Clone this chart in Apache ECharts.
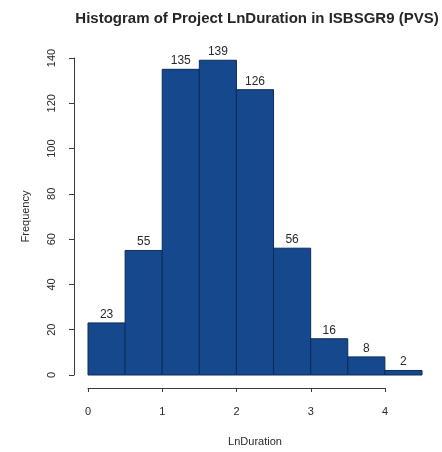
<!DOCTYPE html>
<html>
<head>
<meta charset="utf-8">
<script src="https://cdn.jsdelivr.net/npm/echarts@6/dist/echarts.min.js"></script>
<style>
  html, body { margin: 0; padding: 0; background: #ffffff; }
  #chart { width: 442px; height: 452px; }
</style>
</head>
<body>
<div id="chart"></div>
<script>
// Histogram bins of LnDuration (width 0.5) and their project counts
const binStarts = [0, 0.5, 1, 1.5, 2, 2.5, 3, 3.5, 4];
const binWidth = 0.5;
const counts = [23, 55, 135, 139, 126, 56, 16, 8, 2];
const xTicks = [0, 1, 2, 3, 4];
const yTicks = [0, 20, 40, 60, 80, 100, 120, 140];

const fontFamily = '"Liberation Sans", Arial, sans-serif';
const textColor = '#2a2a2a';
const axisColor = '#3a3a3a';

const data = binStarts.map((s, i) => [s, s + binWidth, counts[i]]);

const chart = echarts.init(document.getElementById('chart'), null, { renderer: 'canvas' });

chart.setOption({
  animation: false,
  backgroundColor: '#ffffff',
  title: {
    text: 'Histogram of Project LnDuration in ISBSGR9 (PVS)',
    left: 252,
    textAlign: 'center',
    top: 6,
    textStyle: { fontFamily, fontSize: 15, fontWeight: 'bold', color: '#262626' }
  },
  grid: [
    { left: 88, right: 20, top: 58, bottom: 76 },
    { left: 88, width: 297, top: 58, bottom: 76 }
  ],
  xAxis: [
    {
      gridIndex: 0,
      type: 'value',
      min: 0,
      max: 4.5,
      axisLine: { show: false, onZero: false },
      axisTick: { show: false },
      axisLabel: { show: false },
      splitLine: { show: false },
      name: 'LnDuration',
      nameLocation: 'middle',
      nameGap: 61,
      nameTextStyle: { fontFamily, fontSize: 11, color: textColor }
    },
    {
      gridIndex: 1,
      type: 'value',
      position: 'bottom',
      min: xTicks[0],
      max: xTicks[xTicks.length - 1],
      interval: 1,
      offset: 12,
      axisLine: { show: true, onZero: false, lineStyle: { color: axisColor, width: 1 } },
      axisTick: { show: true, length: 4, lineStyle: { color: axisColor } },
      axisLabel: { fontFamily, fontSize: 11, color: textColor, margin: 18 },
      splitLine: { show: false }
    }
  ],
  yAxis: [
    {
      gridIndex: 0,
      type: 'value',
      position: 'left',
      min: yTicks[0],
      max: yTicks[yTicks.length - 1],
      interval: 20,
      offset: 14,
      axisLine: { show: true, onZero: false, lineStyle: { color: axisColor, width: 1 } },
      axisTick: { show: true, length: 5, lineStyle: { color: axisColor } },
      axisLabel: {
        fontFamily, fontSize: 11, color: textColor,
        rotate: 90, margin: 17, align: 'center', verticalAlign: 'bottom'
      },
      splitLine: { show: false },
      name: 'Frequency',
      nameLocation: 'middle',
      nameGap: 43,
      nameTextStyle: { fontFamily, fontSize: 11, color: textColor }
    },
    {
      gridIndex: 1,
      type: 'value',
      min: 0,
      max: 140,
      axisLine: { show: false, onZero: false },
      axisTick: { show: false },
      axisLabel: { show: false },
      splitLine: { show: false }
    }
  ],
  series: [
    {
      type: 'custom',
      xAxisIndex: 0,
      yAxisIndex: 0,
      data: data,
      encode: { x: [0, 1], y: 2 },
      renderItem: function (params, api) {
        const value = api.value(2);
        const p0 = api.coord([api.value(0), 0]);
        const p1 = api.coord([api.value(1), value]);
        return {
          type: 'rect',
          shape: { x: p0[0], y: p1[1], width: p1[0] - p0[0], height: p0[1] - p1[1] },
          style: { fill: '#16488e', stroke: '#0d2c58', lineWidth: 1 },
          textContent: {
            style: {
              text: String(value),
              fontFamily, fontSize: 12, fill: textColor
            }
          },
          textConfig: { position: 'top', distance: 2 }
        };
      }
    }
  ]
});
</script>
</body>
</html>
